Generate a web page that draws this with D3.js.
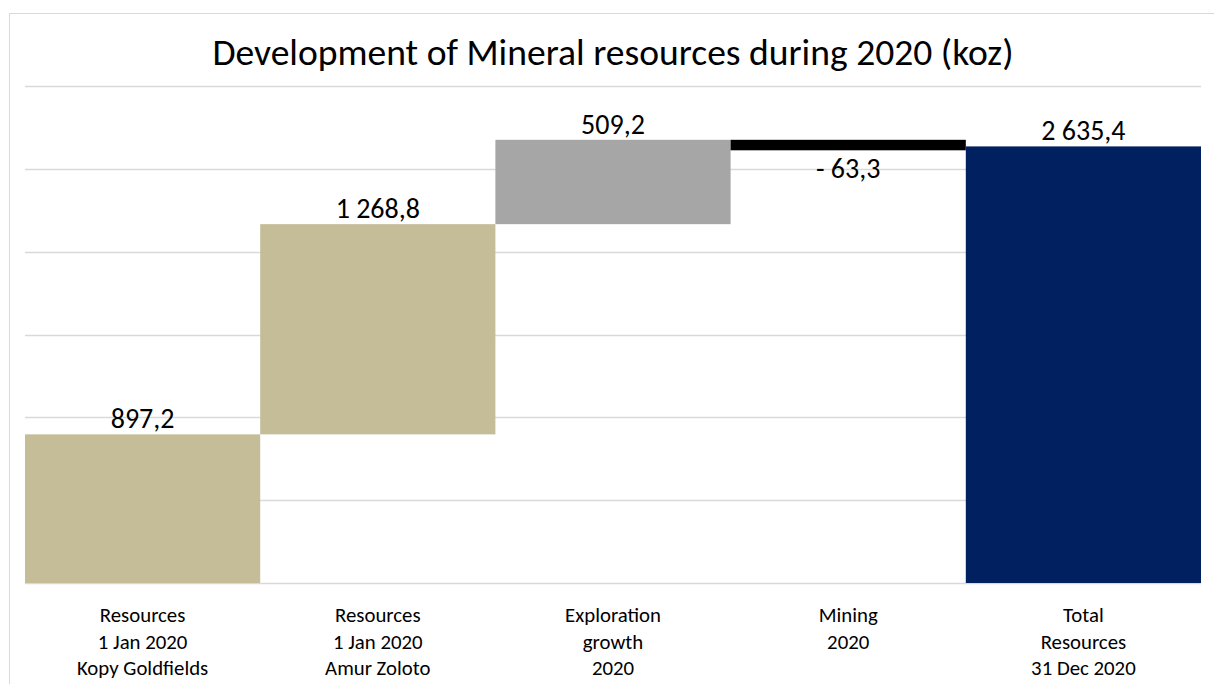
<!DOCTYPE html>
<html lang="en">
<head>
<meta charset="utf-8">
<title>Mineral resources waterfall</title>
<script src="https://d3js.org/d3.v7.min.js"></script>
<style>
  body { margin: 0; background: #fff; }
  text { font-family: Carlito, Lato, "Open Sans", sans-serif; fill: #000; }
</style>
</head>
<body>
<script>
// data
var categories = ["Resources\n1 Jan 2020\nKopy Goldfields", "Resources\n1 Jan 2020\nAmur Zoloto", "Exploration\ngrowth\n2020", "Mining\n2020", "Total\nResources\n31 Dec 2020"];
var values = [897.2, 1268.8, 509.2, -63.3, 2635.4];
var isTotal = [false, false, false, false, true];
var barColors = ["#C4BD97", "#C4BD97", "#A6A6A6", "#000000", "#002060"];
var yTicks = [0, 500, 1000, 1500, 2000, 2500, 3000];

var W = 1214, H = 684;
var margin = {left: 25, right: 13, top: 86, bottom: 101};

var svg = d3.select("body").append("svg")
  .attr("width", W)
  .attr("height", H);

// chart border
svg.append("rect")
  .attr("x", 9.5).attr("y", 13.5)
  .attr("width", W + 10).attr("height", H + 10)
  .attr("fill", "none")
  .attr("stroke", "#d9d9d9");

var x = d3.scaleBand()
  .domain(d3.range(categories.length))
  .range([margin.left, W - margin.right])
  .paddingInner(0).paddingOuter(0);

var y = d3.scaleLinear()
  .domain([0, 3000])
  .range([H - margin.bottom, margin.top]);

// running totals
var rows = [];
var run = 0;
values.forEach(function(v, i) {
  var start, end;
  if (isTotal[i]) { start = 0; end = v; run = v; }
  else { start = run; end = run + v; run = end; }
  rows.push({i: i, v: v, start: start, end: end});
});

// gridlines
svg.append("g")
  .selectAll("line")
  .data(yTicks)
  .enter().append("line")
  .attr("x1", margin.left).attr("x2", W - margin.right)
  .attr("y1", d => Math.round(y(d)) + 0.5)
  .attr("y2", d => Math.round(y(d)) + 0.5)
  .attr("stroke", "#d9d9d9")
  .attr("stroke-width", 1.5);

// bars
svg.append("g")
  .selectAll("rect")
  .data(rows)
  .enter().append("rect")
  .attr("x", d => x(d.i))
  .attr("width", x.bandwidth())
  .attr("y", d => y(Math.max(d.start, d.end)))
  .attr("height", d => Math.abs(y(d.start) - y(d.end)))
  .attr("fill", d => barColors[d.i]);

var loc = d3.formatLocale({decimal: ",", thousands: " ", grouping: [3], currency: ["", ""]});
var fmt = loc.format(",.1f");

// value labels
svg.append("g")
  .selectAll("text")
  .data(rows)
  .enter().append("text")
  .attr("x", d => x(d.i) + x.bandwidth() / 2)
  .attr("y", d => d.v < 0 ? y(Math.min(d.start, d.end)) + 28 : y(Math.max(d.start, d.end)) - 6)
  .attr("text-anchor", "middle")
  .attr("font-size", "28px")
  .text(d => d.v < 0 ? "- " + fmt(-d.v) : fmt(d.v));

// category labels
var cat = svg.append("g")
  .selectAll("text")
  .data(categories)
  .enter().append("text")
  .attr("text-anchor", "middle")
  .attr("font-size", "20.8px")
  .attr("y", 622);

cat.selectAll("tspan")
  .data((d, i) => d.split("\n").map(s => ({s: s, i: i})))
  .enter().append("tspan")
  .attr("x", d => x(d.i) + x.bandwidth() / 2)
  .attr("dy", (d, j) => j === 0 ? 0 : 26.5)
  .text(d => d.s);

// title
svg.append("text")
  .attr("x", 613)
  .attr("y", 65)
  .attr("text-anchor", "middle")
  .attr("font-size", "37.6px")
  .text("Development of Mineral resources during 2020 (koz)");
</script>
</body>
</html>
